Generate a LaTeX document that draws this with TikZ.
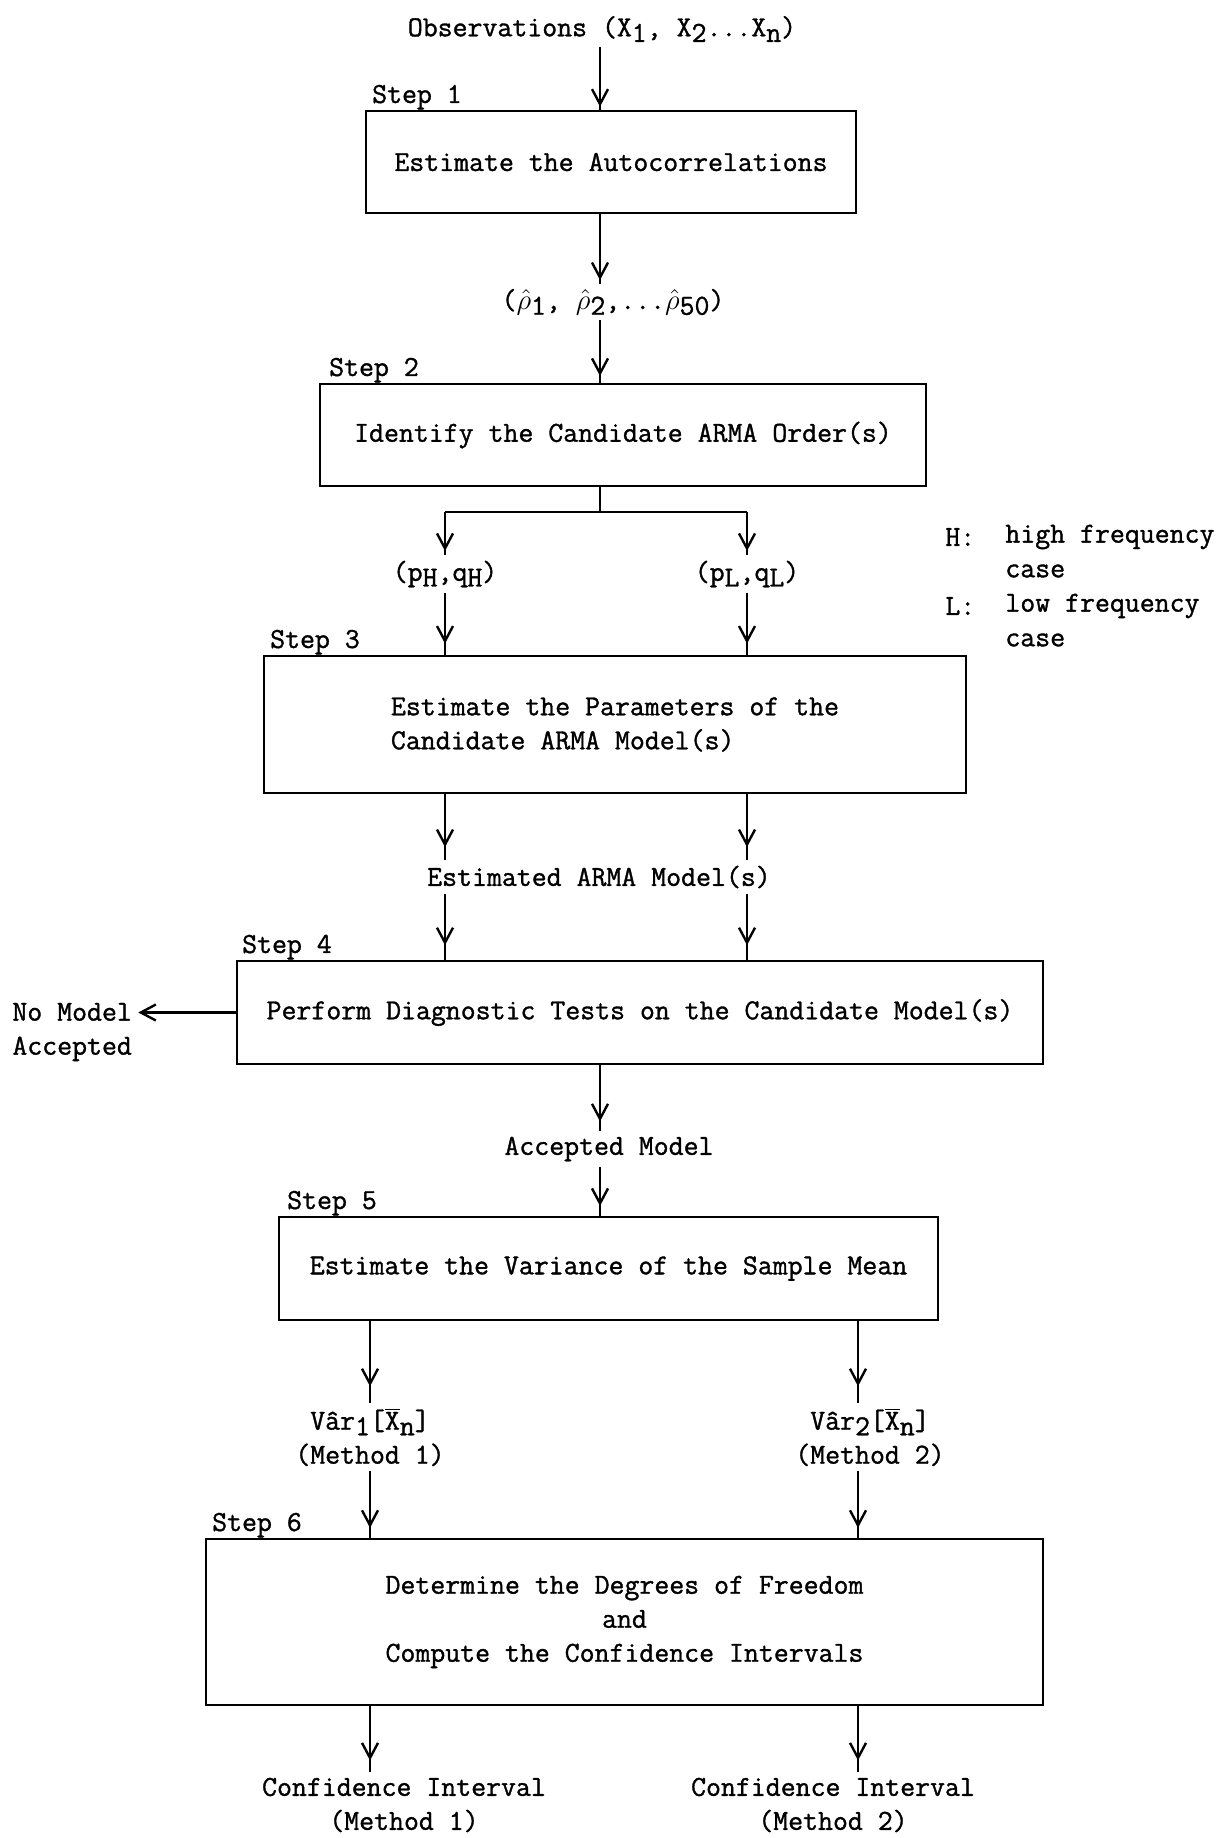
\documentclass[tikz,border=0pt]{standalone}
\usepackage{fontspec}
\setmonofont[FakeBold=1.2]{Latin Modern Mono}
\usetikzlibrary{arrows.meta,decorations.markings}

% typewriter-style lowered index and barred X
\newcommand{\dn}[1]{\raisebox{-0.45ex}{#1}}
\newcommand{\xbar}{$\overline{\hbox{X}}$}
\newcommand{\rhohat}{$\hat{\mathrm{\rho}}$}
\newcommand{\flowfont}{\ttfamily\fontsize{14.5}{17}\selectfont}

\tikzset{
  lbl/.style={inner sep=2.5pt, font=\flowfont},
  box/.style={draw, line width=1.2pt, rectangle, inner sep=0pt, font=\flowfont},
  steplabel/.style={anchor=south west, inner sep=0pt, font=\flowfont},
  wire/.style={line width=1.2pt},
  flow/.style={wire, postaction={decorate},
    decoration={markings, mark=at position #1 with
      {\arrow[line width=1.2pt]{Straight Barb[length=7.5pt,width=8pt]}}}},
  flow/.default=0.85,
}

\begin{document}
\begin{tikzpicture}[x=0.5pt, y=-0.5pt]
\useasboundingbox (0,0) rectangle (1220,1838);

% vertical guide lines of the flow
\coordinate (spine) at (600,0);
\coordinate (colA) at (370,0);
\coordinate (colB) at (858,0);

% ---- Step 1
\node[lbl] (obs) at (602,29) {Observations (X\dn{1}, X\dn{2}...X\dn{n})};
\node[box, minimum width=245pt, minimum height=51pt] (box1) at (611,162)
  {Estimate the Autocorrelations};
\node[steplabel] (s1) at ([xshift=3.5pt]box1.north west) {Step 1};
\draw[flow=0.95] (obs.south -| spine) -- (box1.north -| spine);

\node[lbl] (rho) at (613,302)
  {\hbox{(\rhohat\dn{1}, \rhohat\dn{2},...\rhohat\dn{50})}};
\draw[flow=0.95] (box1.south -| spine) -- (rho.north -| spine);

% ---- Step 2
\node[box, minimum width=303pt, minimum height=51pt] (box2) at (623,435)
  {Identify the Candidate ARMA Order(s)};
\node[steplabel] (s2) at ([xshift=5pt]box2.north west) {Step 2};
\draw[flow=0.89] (rho.south -| spine) -- (box2.north -| spine);

\node[lbl] (pH) at (445,574) {(p\dn{H},q\dn{H})};
\node[lbl] (pL) at (747,574) {(p\dn{L},q\dn{L})};
\coordinate (split) at (600,512);
\draw[wire] (box2.south -| split) -- (split);
\draw[wire] (split -| pH) -- (split -| pL);
\draw[flow=0.9] (split -| pH) -- (pH.north);
\draw[flow=0.9] (split -| pL) -- (pL.north);

% legend
\node[lbl, anchor=west] (hkey) at (940,537) {H:};
\node[lbl, anchor=west] (htxt) at (1000,537) {high frequency};
\node[lbl, anchor=west] (hcase) at (1000,571) {case};
\node[lbl, anchor=west] (lkey) at (940,606) {L:};
\node[lbl, anchor=west] (ltxt) at (1000,606) {low frequency};
\node[lbl, anchor=west] (lcase) at (1000,640) {case};

% ---- Step 3
\node[box, minimum width=351pt, minimum height=68.5pt, align=left] (box3) at (615,724.5)
  {Estimate the Parameters of the\\Candidate ARMA Model(s)};
\node[steplabel] (s3) at ([xshift=3.5pt]box3.north west) {Step 3};
\draw[flow=0.82] (pH.south) -- (box3.north -| pH);
\draw[flow=0.82] (pL.south) -- (box3.north -| pL);

\node[lbl] (est) at (599,877) {Estimated ARMA Model(s)};
\draw[flow=0.8] (box3.south -| pH) -- (est.north -| pH);
\draw[flow=0.8] (box3.south -| pL) -- (est.north -| pL);

% ---- Step 4
\node[box, minimum width=403pt, minimum height=51.5pt] (box4) at (640,1012.5)
  {Perform Diagnostic Tests on the Candidate Model(s)};
\node[steplabel] (s4) at ([xshift=3pt]box4.north west) {Step 4};
\draw[flow=0.78] (est.south -| pH) -- (box4.north -| pH);
\draw[flow=0.78] (est.south -| pL) -- (box4.north -| pL);

\node[lbl, anchor=west, align=left, inner sep=1pt] (nomodel) at (10,1032) {No Model\\Accepted};
\draw[wire, -{Straight Barb[length=7.5pt,width=8pt]}] (box4.west) -- ([xshift=2pt]box4.west -| nomodel.east);

\node[lbl] (acc) at (609,1149) {Accepted Model};
\draw[flow=0.85] (box4.south -| spine) -- (acc.north -| spine);

% ---- Step 5
\node[box, minimum width=329.5pt, minimum height=51.5pt] (box5) at (608.5,1268.5)
  {Estimate the Variance of the Sample Mean};
\node[steplabel] (s5) at ([xshift=4.5pt]box5.north west) {Step 5};
\draw[flow=0.8] (acc.south -| spine) -- (box5.north -| spine);

\node[lbl, align=center] (var1) at (370,1437) {V\^{a}r\dn{1}[\xbar\dn{n}]\\(Method 1)};
\node[lbl, align=center] (var2) at (870,1437) {V\^{a}r\dn{2}[\xbar\dn{n}]\\(Method 2)};
\draw[flow=0.8] (box5.south -| colA) -- (var1.north -| colA);
\draw[flow=0.8] (box5.south -| colB) -- (var2.north -| colB);

% ---- Step 6
\node[box, minimum width=418.5pt, minimum height=83pt, align=center] (box6) at (624.5,1622)
  {Determine the Degrees of Freedom\\and\\Compute the Confidence Intervals};
\node[steplabel] (s6) at ([xshift=3.5pt]box6.north west) {Step 6};
\draw[flow=0.85] (var1.south -| colA) -- (box6.north -| colA);
\draw[flow=0.85] (var2.south -| colB) -- (box6.north -| colB);

\node[lbl, align=center] (ci1) at (404,1805) {Confidence Interval\\(Method 1)};
\node[lbl, align=center] (ci2) at (833,1805) {Confidence Interval\\(Method 2)};
\draw[flow=0.82] (box6.south -| colA) -- (ci1.north -| colA);
\draw[flow=0.82] (box6.south -| colB) -- (ci2.north -| colB);
\end{tikzpicture}
\end{document}
